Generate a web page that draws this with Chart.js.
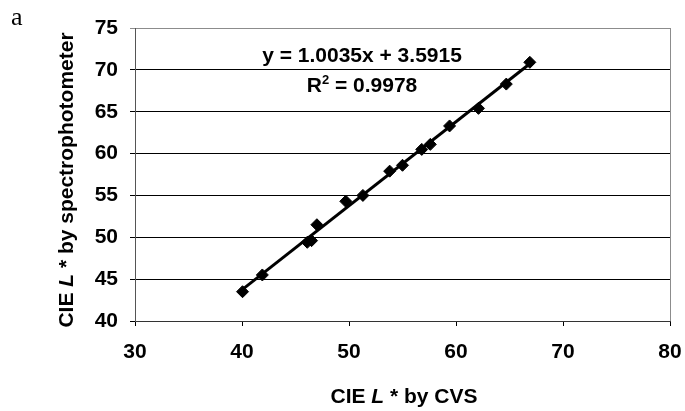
<!DOCTYPE html>
<html>
<head>
<meta charset="utf-8">
<script src="https://cdn.jsdelivr.net/npm/chart.js@4.4.0/dist/chart.umd.min.js"></script>
<style>
  html, body { margin: 0; padding: 0; background: #fff; }
  #wrap { width: 685px; height: 411px; }
</style>
</head>
<body>
<div id="wrap"><canvas id="lstar"></canvas></div>
<script>
// L* readings of the same samples: camera system (CVS) vs spectrophotometer
const cvsL = [40.05, 41.9, 46.1, 46.5, 47.0, 49.7, 51.3, 53.8, 55.0, 56.8, 57.6, 59.4, 62.1, 64.7, 66.9];
const spectroL = [43.5, 45.5, 49.4, 49.6, 51.5, 54.3, 55.0, 57.9, 58.6, 60.5, 61.1, 63.3, 65.4, 68.3, 70.9];

// linear regression reported on the chart
const fitSlope = 1.0035;
const fitIntercept = 3.5915;
const fitR2 = 0.9978;

const xTicks = [30, 40, 50, 60, 70, 80];
const yTicks = [40, 45, 50, 55, 60, 65, 70, 75];

const FONT = '"Liberation Sans", Arial, sans-serif';
const bold = (px) => `bold ${px}px ${FONT}`;
const boldItalic = (px) => `italic bold ${px}px ${FONT}`;

const points = cvsL.map((x, i) => ({ x, y: spectroL[i] }));
const xMin = Math.min(...cvsL);
const xMax = Math.max(...cvsL);
const trend = [xMin, xMax].map((x) => ({ x, y: fitSlope * x + fitIntercept }));

// draw a row of differently styled text pieces centred on (cx, cy)
function drawRuns(ctx, runs, cx, cy) {
  let total = 0;
  runs.forEach((r) => {
    ctx.font = r.font;
    r.w = ctx.measureText(r.text).width;
    total += r.w;
  });
  let x = cx - total / 2;
  ctx.textAlign = "left";
  ctx.textBaseline = "middle";
  runs.forEach((r) => {
    ctx.font = r.font;
    ctx.fillText(r.text, x, cy + (r.dy || 0));
    x += r.w;
  });
}

const labelsPlugin = {
  id: "labels",
  afterDraw(chart) {
    const { ctx, chartArea } = chart;
    ctx.save();

    // right edge of the plot box
    ctx.strokeStyle = "#8c8c8c";
    ctx.lineWidth = 1;
    ctx.beginPath();
    ctx.moveTo(chartArea.right + 0.5, chartArea.top);
    ctx.lineTo(chartArea.right + 0.5, chartArea.bottom);
    ctx.stroke();

    ctx.fillStyle = "#000";

    // regression equation
    drawRuns(ctx, [{ text: `y = ${fitSlope.toFixed(4)}x + ${fitIntercept.toFixed(4)}`, font: bold(21) }], 362, 56);
    drawRuns(ctx, [
      { text: "R", font: bold(21) },
      { text: "2", font: bold(13), dy: -6 },
      { text: ` = ${fitR2.toFixed(4)}`, font: bold(21) },
    ], 362, 86);

    // x axis title
    drawRuns(ctx, [
      { text: "CIE ", font: bold(21) },
      { text: "L", font: boldItalic(21) },
      { text: " * by CVS", font: bold(21) },
    ], 404, 397);

    // y axis title
    ctx.save();
    ctx.translate(67, 180);
    ctx.rotate(-Math.PI / 2);
    drawRuns(ctx, [
      { text: "CIE ", font: bold(21) },
      { text: "L", font: boldItalic(21) },
      { text: " * by spectrophotometer", font: bold(21) },
    ], 0, 0);
    ctx.restore();

    // panel letter
    ctx.font = '26px "Liberation Serif", "Times New Roman", serif';
    ctx.textAlign = "left";
    ctx.textBaseline = "alphabetic";
    ctx.fillText("a", 11, 25);

    ctx.restore();
  },
};

const ctx = document.getElementById("lstar");

new Chart(ctx, {
  type: "scatter",
  data: {
    datasets: [
      {
        label: "trend",
        type: "line",
        data: trend,
        borderColor: "#000",
        borderWidth: 3,
        pointRadius: 0,
        fill: false,
        order: 0,
      },
      {
        label: "L*",
        data: points,
        pointStyle: "rectRot",
        pointRadius: 6,
        pointHoverRadius: 6,
        backgroundColor: "#000",
        borderColor: "#000",
        borderWidth: 1,
        order: 1,
      },
    ],
  },
  options: {
    responsive: true,
    maintainAspectRatio: false,
    animation: false,
    events: [],
    layout: { padding: { top: 28, right: 15, left: 0, bottom: 0 } },
    plugins: {
      legend: { display: false },
      tooltip: { enabled: false },
    },
    scales: {
      x: {
        type: "linear",
        min: 30,
        max: 80,
        afterBuildTicks: (s) => { s.ticks = xTicks.map((v) => ({ value: v })); },
        afterFit: (s) => {
          s.height = 90;
          s.paddingLeft = 0;
          s.paddingRight = 0;
        },
        grid: { drawOnChartArea: false, drawTicks: true, tickLength: 5, color: "#000" },
        border: { color: "#333", width: 1 },
        ticks: { color: "#000", font: { family: FONT, size: 21, weight: "bold" }, padding: 14, maxRotation: 0 },
      },
      y: {
        type: "linear",
        min: 40,
        max: 75,
        afterBuildTicks: (s) => { s.ticks = yTicks.map((v) => ({ value: v })); },
        afterFit: (s) => { s.width = 135; },
        grid: {
          drawTicks: true,
          tickLength: 5,
          color: (c) => (c.tick && c.tick.value === 75 ? "#8c8c8c" : "#000"),
        },
        border: { color: "#555", width: 1 },
        ticks: { color: "#000", font: { family: FONT, size: 21, weight: "bold" }, padding: 12 },
      },
    },
  },
  plugins: [labelsPlugin],
});
</script>
</body>
</html>
